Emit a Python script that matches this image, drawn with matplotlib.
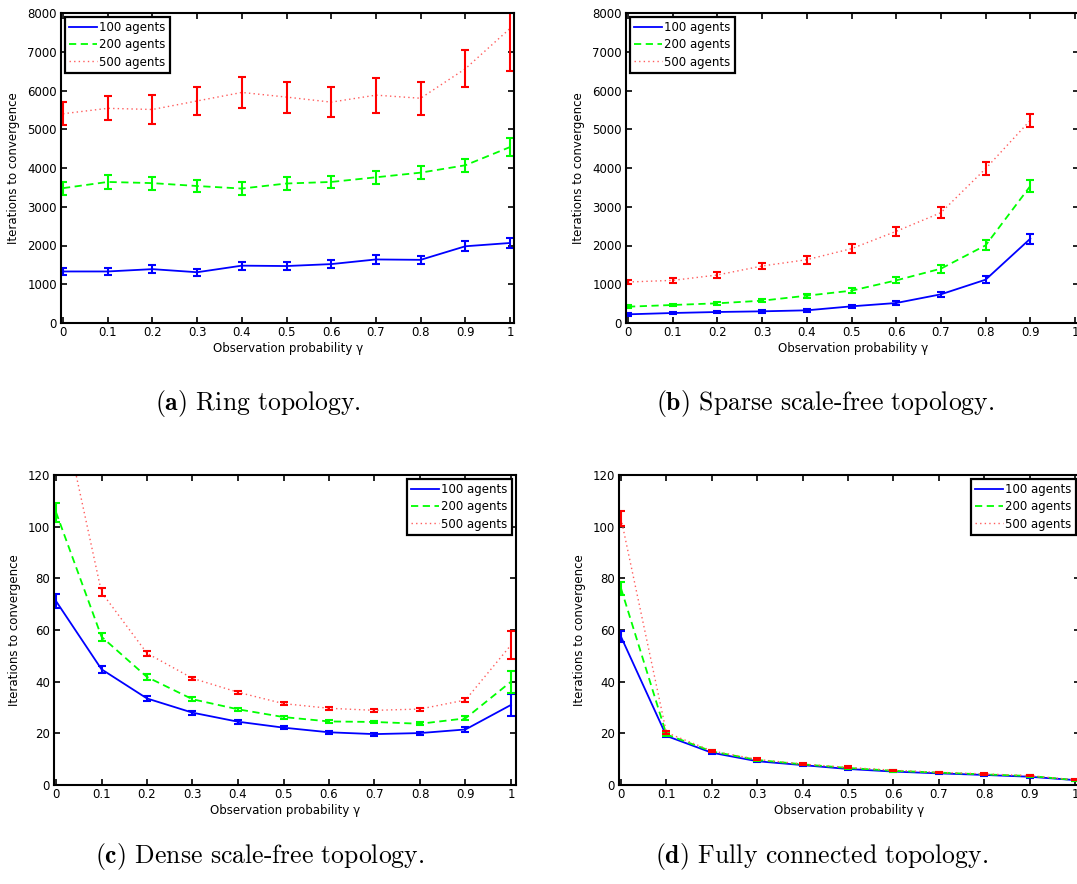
import numpy as np
import matplotlib
matplotlib.use('Agg')
import matplotlib.pyplot as plt

plt.rcParams['mathtext.fontset'] = 'cm'

gamma = [0, 0.1, 0.2, 0.3, 0.4, 0.5, 0.6, 0.7, 0.8, 0.9, 1.0]
gamma_sparse = gamma[:10]
gamma_labels = ['0', '0.1', '0.2', '0.3', '0.4', '0.5', '0.6', '0.7', '0.8', '0.9', '1']
agent_labels = ['100 agents', '200 agents', '500 agents']

# (a) ring
ring_100 = [1330, 1330, 1390, 1310, 1480, 1470, 1520, 1640, 1630, 1980, 2065]
ring_100_err = [100, 100, 100, 90, 100, 100, 100, 110, 100, 130, 130]
ring_200 = [3480, 3640, 3610, 3535, 3470, 3600, 3640, 3760, 3880, 4070, 4540]
ring_200_err = [170, 170, 170, 150, 170, 170, 160, 160, 160, 170, 240]
ring_500 = [5400, 5540, 5510, 5730, 5950, 5830, 5700, 5880, 5800, 6560, 7600]
ring_500_err = [300, 310, 380, 360, 390, 400, 390, 450, 430, 480, 1100]

# (b) sparse scale-free
sparse_100 = [224, 258, 284, 301, 327, 430, 516, 740, 1118, 2176]
sparse_100_err = [35, 35, 35, 35, 35, 40, 40, 60, 90, 130]
sparse_200 = [421, 465, 508, 576, 705, 834, 1100, 1402, 2004, 3535]
sparse_200_err = [35, 35, 35, 40, 50, 60, 80, 100, 130, 160]
sparse_500 = [1058, 1100, 1239, 1471, 1634, 1918, 2366, 2847, 3983, 5230]
sparse_500_err = [60, 70, 80, 90, 100, 110, 120, 140, 160, 170]

# (c) dense scale-free
dense_100 = [71.2, 44.8, 33.5, 28.0, 24.5, 22.2, 20.4, 19.7, 20.1, 21.5, 31.0]
dense_100_err = [2.7, 1.3, 0.9, 0.8, 0.7, 0.6, 0.5, 0.6, 0.6, 0.8, 4.4]
dense_200 = [105.6, 57.4, 41.8, 33.2, 29.3, 26.3, 24.6, 24.4, 23.7, 25.8, 40.0]
dense_200_err = [3.7, 1.5, 1.0, 0.8, 0.6, 0.6, 0.5, 0.5, 0.6, 0.8, 4.3]
dense_500 = [156.0, 74.6, 51.0, 41.3, 35.9, 31.5, 29.7, 28.9, 29.4, 32.9, 54.2]
dense_500_err = [4.0, 1.5, 1.0, 0.7, 0.6, 0.6, 0.5, 0.6, 0.6, 0.9, 5.3]

# (d) fully connected
full_100 = [57.4, 19.0, 12.5, 9.2, 7.7, 6.2, 5.2, 4.5, 3.9, 3.2, 1.9]
full_100_err = [2.1, 0.5, 0.4, 0.4, 0.3, 0.3, 0.3, 0.3, 0.3, 0.3, 0.2]
full_200 = [76.1, 19.6, 13.0, 9.7, 8.0, 6.6, 5.5, 4.8, 4.1, 3.5, 1.9]
full_200_err = [2.6, 0.5, 0.4, 0.4, 0.3, 0.3, 0.3, 0.3, 0.3, 0.3, 0.2]
full_500 = [103.2, 20.3, 13.2, 9.9, 8.1, 6.8, 5.7, 4.9, 4.3, 3.6, 2.0]
full_500_err = [3.0, 0.6, 0.5, 0.4, 0.4, 0.4, 0.3, 0.3, 0.3, 0.3, 0.2]

captions = [r'$\mathbf{(a)}$ Ring topology.', r'$\mathbf{(b)}$ Sparse scale-free topology.',
            r'$\mathbf{(c)}$ Dense scale-free topology.', r'$\mathbf{(d)}$ Fully connected topology.']

W, H = 1077, 884
styles = [  # line colour, errorbar colour, linestyle, linewidth
    ('#0000ff', '#0000ff', '-', 1.3),
    ('#00ff00', '#00ff00', (0, (4, 2.5)), 1.3),
    ('#ff5c5c', '#ff0000', (0, (1, 2.3)), 1.0),
]


def make_axes(fig, x0, x1, top, bottom):
    # x0/x1: pixel of gamma=0 and gamma=1, top/bottom: pixel rows of the box
    lo, hi = -0.004, 1.01
    left = x0 + lo * (x1 - x0)
    right = x0 + hi * (x1 - x0)
    ax = fig.add_axes([left / W, 1 - bottom / H, (right - left) / W, (bottom - top) / H])
    ax.set_xlim(lo, hi)
    return ax


def plot_panel(ax, x, series, ymax, ystep, loc):
    for (mean, err), lab, (lc, ec, ls, lw) in zip(series, agent_labels, styles):
        ax.plot(x, mean, color=lc, ls=ls, lw=lw, label=lab)
        ax.errorbar(x, mean, yerr=err, fmt='none', ecolor=ec, elinewidth=1.5,
                    capsize=2.8, capthick=1.5)
    ax.set_ylim(0, ymax)
    ax.set_yticks(np.arange(0, ymax + 1, ystep))
    ax.set_xticks(gamma, gamma_labels)
    ax.tick_params(direction='in', top=True, right=True, length=4, width=1.2,
                   labelsize=8.5, pad=3)
    ax.tick_params(axis='x', pad=2.5)
    for s in ax.spines.values():
        s.set_linewidth(1.5)
    ax.set_xlabel(r'Observation probability γ', fontsize=8.5, labelpad=1.5)
    ax.set_ylabel('Iterations to convergence', fontsize=8.5, labelpad=5)
    leg = ax.legend(loc=loc, fontsize=8.5, fancybox=False, framealpha=1,
                    edgecolor='black', handlelength=2.3, handletextpad=0.2,
                    labelspacing=0.35, borderpad=0.4, borderaxespad=0.3)
    leg.get_frame().set_linewidth(1.6)


fig = plt.figure(figsize=(W / 100, H / 100), dpi=100)

ax = make_axes(fig, 63, 510, 13, 323)
plot_panel(ax, gamma, [(ring_100, ring_100_err), (ring_200, ring_200_err),
                       (ring_500, ring_500_err)], 8000, 1000, 'upper left')

ax = make_axes(fig, 628, 1075, 13, 323)
plot_panel(ax, gamma_sparse, [(sparse_100, sparse_100_err), (sparse_200, sparse_200_err),
                              (sparse_500, sparse_500_err)], 8000, 1000, 'upper left')

ax = make_axes(fig, 56, 511, 475, 785)
plot_panel(ax, gamma, [(dense_100, dense_100_err), (dense_200, dense_200_err),
                       (dense_500, dense_500_err)], 120, 20, 'upper right')

ax = make_axes(fig, 621, 1075, 475, 785)
plot_panel(ax, gamma, [(full_100, full_100_err), (full_200, full_200_err),
                       (full_500, full_500_err)], 120, 20, 'upper right')

for (cx, cy), cap in zip([(258, 404), (825, 404), (260, 857), (822, 857)], captions):
    fig.text(cx / W, 1 - cy / H, cap, family='cmr10', fontsize=18.5, ha='center', va='center')

fig.savefig('out.png', dpi=100)
